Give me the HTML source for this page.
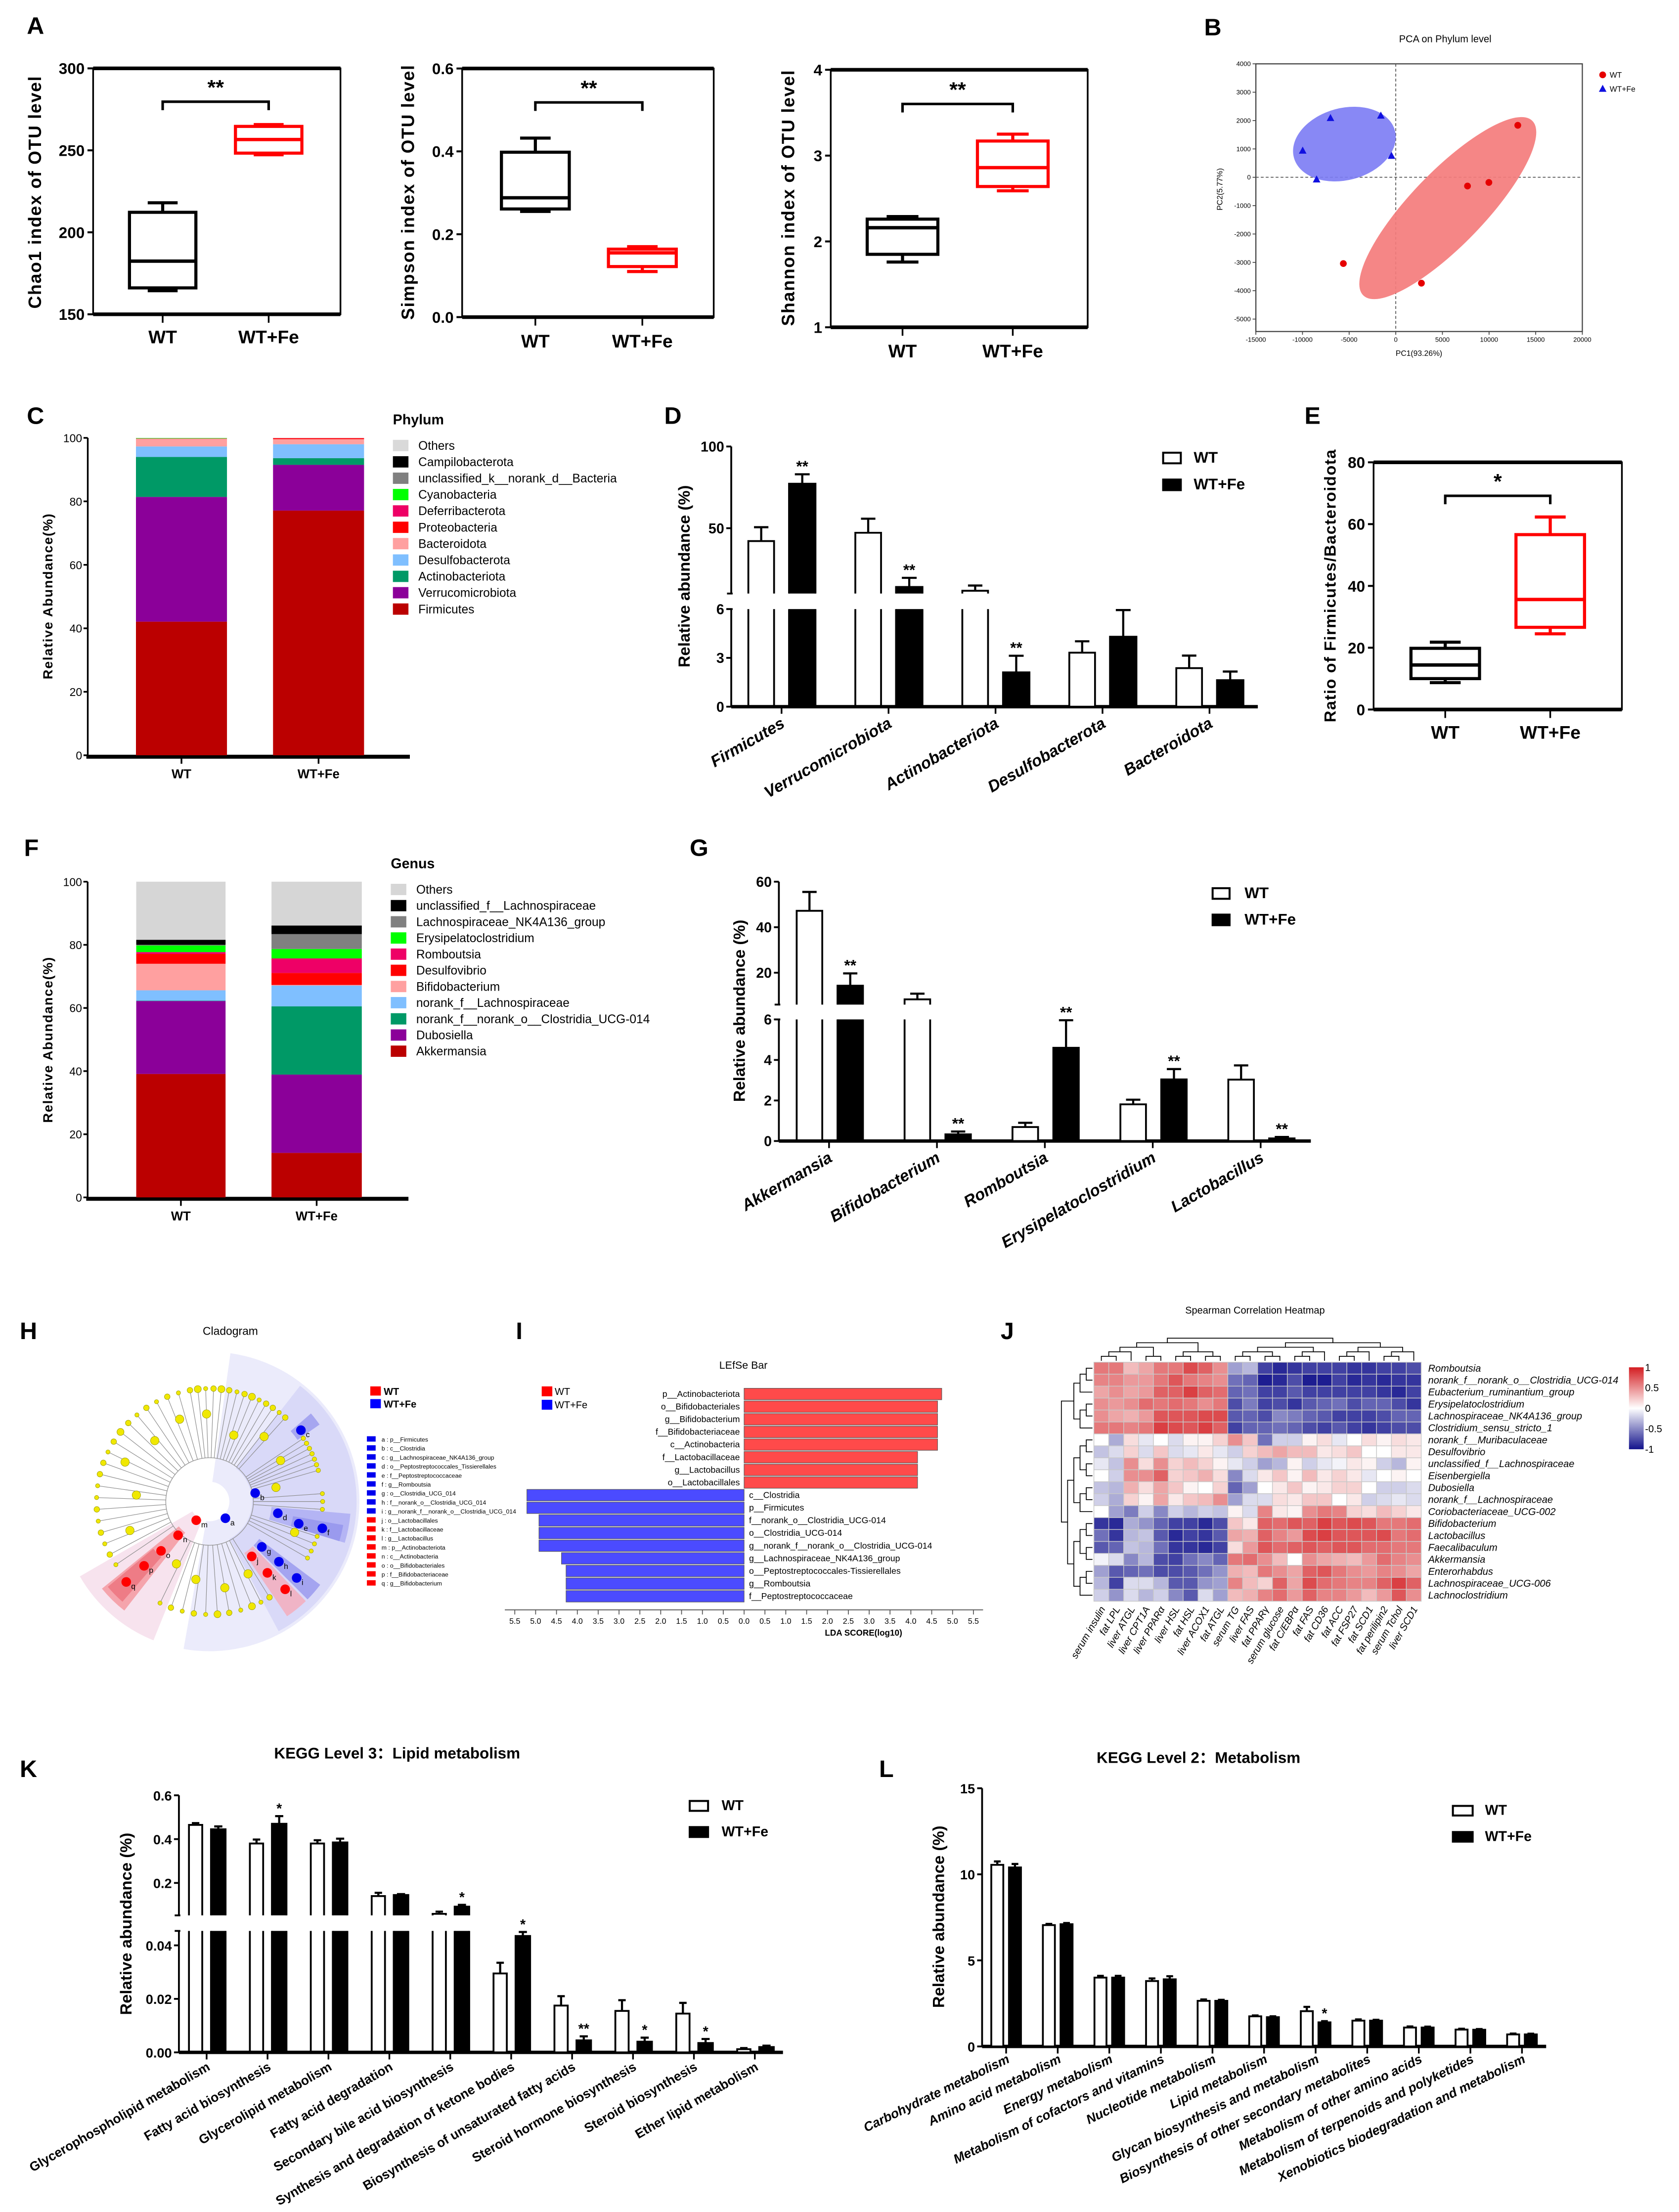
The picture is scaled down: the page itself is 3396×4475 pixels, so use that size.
<!DOCTYPE html>
<html><head><meta charset="utf-8"><title>Gut microbiota figure</title>
<style>
html,body{margin:0;padding:0;background:#fff;}
svg{display:block;font-family:"Liberation Sans","Noto Sans CJK SC",sans-serif;}
</style></head>
<body>
<svg id="fig" xmlns="http://www.w3.org/2000/svg" width="3396" height="4475" viewBox="0 0 1188 1566" preserveAspectRatio="none">
<rect x="0" y="0" width="1188" height="1566" fill="#fff"/>
</svg>
<script>
// ---------- DATA ----------
const alphaCats = ['WT','WT+Fe'];
const chaoStats = [[164.4,166.1,182.4,212.2,218],[247.3,248.3,256.6,264.6,265.7]];
const chaoTicks = [150,200,250,300];
const simpsonStats = [[0.255,0.261,0.288,0.398,0.432],[0.11,0.122,0.155,0.164,0.17]];
const simpsonTicks = [0,0.2,0.4,0.6];
const simpsonTickLabels = ['0.0','0.2','0.4','0.6'];
const shannonStats = [[1.76,1.85,2.16,2.26,2.29],[2.59,2.64,2.86,3.17,3.25]];
const shannonTicks = [1,2,3,4];
const ratioStats = [[8.7,10,14.4,19.8,21.8],[24.5,26.6,35.6,56.6,62.3]];
const ratioTicks = [0,20,40,60,80];

const pcaWTx = [13080,7690,9980,-5620,2750];
const pcaWTy = [1833,-308,-183,-3042,-3733];
const pcaFeX = [-7000,-1600,-9980,-460,-8490];
const pcaFeY = [2083,2167,933,750,-83];
const pcaXTicks = [-15000,-10000,-5000,0,5000,10000,15000,20000];
const pcaYTicks = [4000,3000,2000,1000,0,-1000,-2000,-3000,-4000,-5000];

const phylumNames = ['Others','Campilobacterota','unclassified_k__norank_d__Bacteria','Cyanobacteria','Deferribacterota','Proteobacteria','Bacteroidota','Desulfobacterota','Actinobacteriota','Verrucomicrobiota','Firmicutes'];
const phylumColors = ['#d9d9d9','#000000','#808080','#00ff00','#ee0066','#ff0000','#ffa0a0','#7fbfff','#009966','#8b0099','#bb0000'];
const phylumWT = [0.05,0,0,0.15,0.05,0.05,2.4,3.3,12.6,39.3,42.1];
const phylumFe = [0.05,0,0,0,0.05,0.3,1.6,4.4,2.1,14.4,77.1];
const stackTicks = [0,20,40,60,80,100];

const genusNames = ['Others','unclassified_f__Lachnospiraceae','Lachnospiraceae_NK4A136_group','Erysipelatoclostridium','Romboutsia','Desulfovibrio','Bifidobacterium','norank_f__Lachnospiraceae','norank_f__norank_o__Clostridia_UCG-014','Dubosiella','Akkermansia'];
const genusColors = ['#d6d6d6','#000000','#808080','#00ff00','#ee0066','#ff0000','#ffa0a0','#7fbfff','#009966','#8b0099','#bb0000'];
const genusWT = [18.4,1.6,0.2,2.1,0.6,3.1,8.4,3.3,0.1,23.1,39.1];
const genusFe = [13.9,2.7,4.7,3.0,4.6,3.8,0.2,6.6,21.6,24.8,14.1];

const dCats = ['Firmicutes','Verrucomicrobiota','Actinobacteriota','Desulfobacterota','Bacteroidota'];
const dWT = [42.1,47.2,11.7,3.32,2.37];
const dWTerr = [8.5,8.6,3.2,0.7,0.77];
const dFe = [77.2,14,2.11,4.3,1.63];
const dFeErr = [5.8,5.6,1.02,1.64,0.53];
const dSig = ['**','**','**','',''];

const gCats = ['Akkermansia','Bifidobacterium','Romboutsia','Erysipelatoclostridium','Lactobacillus'];
const gWT = [47.2,8.3,0.69,1.81,3.03];
const gWTerr = [8.3,2.5,0.21,0.23,0.7];
const gFe = [14.3,0.33,4.6,3.04,0.13];
const gFeErr = [5.4,0.14,1.36,0.51,0.07];
const gSig = ['**','**','**','**','**'];

const kCats = ['Glycerophospholipid metabolism','Fatty acid biosynthesis','Glycerolipid metabolism','Fatty acid degradation','Secondary bile acid biosynthesis','Synthesis and degradation of ketone bodies','Biosynthesis of unsaturated fatty acids','Steroid hormone biosynthesis','Steroid biosynthesis','Ether lipid metabolism'];
const kWT = [0.465,0.38,0.38,0.14,0.059,0.0295,0.0175,0.0155,0.0145,0.0012];
const kWTerr = [0.008,0.018,0.015,0.015,0.01,0.004,0.0035,0.004,0.004,0.0004];
const kFe = [0.445,0.47,0.385,0.145,0.092,0.0435,0.0045,0.004,0.0035,0.002];
const kFeErr = [0.013,0.035,0.017,0.004,0.008,0.0015,0.0015,0.0015,0.0015,0.0005];
const kSig = ['','*','','','*','*','**','*','*',''];

const lCats = ['Carbohydrate metabolism','Amino acid metabolism','Energy metabolism','Metabolism of cofactors and vitamins','Nucleotide metabolism','Lipid metabolism','Glycan biosynthesis and metabolism','Biosynthesis of other secondary metabolites','Metabolism of other amino acids','Metabolism of terpenoids and polyketides','Xenobiotics biodegradation and metabolism'];
const lWT = [10.55,7.05,4.0,3.8,2.65,1.75,2.05,1.5,1.1,0.98,0.7];
const lWTerr = [0.2,0.07,0.1,0.15,0.08,0.05,0.25,0.07,0.06,0.05,0.05];
const lFe = [10.4,7.1,4.0,3.9,2.65,1.7,1.4,1.5,1.1,0.97,0.7];
const lFeErr = [0.2,0.07,0.1,0.18,0.06,0.05,0.07,0.05,0.05,0.04,0.04];
const lSig = ['','','','','','','*','','','',''];

const lefseNames = ['p__Actinobacteriota','o__Bifidobacteriales','g__Bifidobacterium','f__Bifidobacteriaceae','c__Actinobacteria','f__Lactobacillaceae','g__Lactobacillus','o__Lactobacillales','c__Clostridia','p__Firmicutes','f__norank_o__Clostridia_UCG-014','o__Clostridia_UCG-014','g__norank_f__norank_o__Clostridia_UCG-014','g__Lachnospiraceae_NK4A136_group','o__Peptostreptococcales-Tissierellales','g__Romboutsia','f__Peptostreptococcaceae'];
const lefseGroup = ['WT','WT','WT','WT','WT','WT','WT','WT','Fe','Fe','Fe','Fe','Fe','Fe','Fe','Fe','Fe'];
const lefseScores = [4.74,4.64,4.64,4.64,4.64,4.16,4.16,4.16,5.21,5.21,4.92,4.92,4.92,4.38,4.27,4.27,4.27];

const hmRows = ['Romboutsia','norank_f__norank_o__Clostridia_UCG-014','Eubacterium_ruminantium_group','Erysipelatoclostridium','Lachnospiraceae_NK4A136_group','Clostridium_sensu_stricto_1','norank_f__Muribaculaceae','Desulfovibrio','unclassified_f__Lachnospiraceae','Eisenbergiella','Dubosiella','norank_f__Lachnospiraceae','Coriobacteriaceae_UCG-002','Bifidobacterium','Lactobacillus','Faecalibaculum','Akkermansia','Enterorhabdus','Lachnospiraceae_UCG-006','Lachnoclostridium'];
const hmCols = ['serum insulin','fat LPL','liver ATGL','liver CPT1A','liver PPARα','liver HSL','fat HSL','liver ACOX1','fat ATGL','serum TG','liver FAS','fat PPARγ','serum glucose','fat C/EBPα','fat FAS','fat CD36','fat ACC','fat FSP27','fat SCD1','fat perilipin2','serum Tchol','liver SCD1'];
const hmVals = [
[.6,.6,.3,.4,.6,.6,.8,.7,.5,-.4,-.3,-.8,-.9,-.85,-.8,-.8,-.8,-.85,-.85,-.8,-.8,-.75],
[.55,.55,.45,.45,.6,.75,.6,.55,.5,-.6,-.65,-.95,-.9,-.75,-.95,-.95,-.8,-.9,-.85,-.9,-.85,-.85],
[.4,.5,.4,.45,.7,.7,.85,.7,.65,-.65,-.6,-.8,-.8,-.7,-.8,-.8,-.8,-.8,-.8,-.85,-.9,-.8],
[.5,.45,.5,.65,.6,.65,.6,.5,.6,-.75,-.55,-.8,-.75,-.85,-.7,-.65,-.6,-.75,-.65,-.65,-.75,-.85],
[.5,.4,.35,.45,.75,.75,.75,.8,.8,-.7,-.65,-.75,-.5,-.55,-.65,-.7,-.8,-.8,-.8,-.75,-.65,-.65],
[.6,.6,.55,.6,.85,.8,.75,.85,.7,-.8,-.65,-.65,-.6,-.65,-.75,-.8,-.7,-.8,-.85,-.8,-.75,-.75],
[0,-.35,.15,-.1,0,-.15,.05,.05,.2,.5,.25,-.6,-.2,-.2,.05,.15,-.1,0,.15,.05,.15,.1],
[-.25,-.15,.2,-.15,.25,-.15,-.1,.1,-.1,-.2,.2,.3,.4,.3,.3,.1,.15,.25,0,0,.1,.1],
[-.1,-.25,.5,.15,.5,.2,.3,.2,.05,-.1,-.2,-.4,-.3,.05,-.2,-.1,-.05,.1,.05,-.2,-.3,.05],
[0,-.2,.5,.5,.7,.2,.25,.35,.15,-.5,-.15,.1,.25,.05,.3,.1,.2,.1,-.1,0,.05,0],
[-.25,-.3,.35,.15,.4,.25,.05,0,.2,-.65,-.4,0,.1,.25,.05,.1,.2,.2,0,-.2,-.2,-.15],
[-.2,-.35,.2,.05,.4,.1,.25,.3,.5,-.4,-.15,-.15,.15,.1,.25,.25,0,.1,-.2,-.15,-.1,-.15],
[0,-.4,-.55,-.2,-.5,-.2,-.3,-.2,-.25,.05,-.15,.55,.1,.05,.5,.6,.55,.2,.15,.3,.2,.1],
[-.85,-.9,-.35,-.45,-.65,-.8,-.8,-.9,-.75,.25,.1,.7,.65,.75,.7,.85,.75,.8,.75,.6,.6,.65],
[-.6,-.85,-.3,-.25,-.7,-.9,-.8,-.85,-.7,.4,.35,.7,.55,.45,.8,.85,.75,.75,.75,.8,.6,.65],
[-.7,-.65,-.25,-.3,-.6,-.85,-.85,-.9,-.8,.15,.45,.75,.65,.7,.75,.7,.75,.75,.65,.65,.6,.6],
[-.05,-.15,-.5,-.3,-.75,-.8,-.6,-.5,-.65,.6,.65,.5,.3,0,.5,.4,.35,.3,.45,.65,.55,.5],
[-.4,-.7,-.65,-.6,-.75,-.75,-.7,-.6,-.45,.35,.3,.6,.5,.4,.7,.75,.6,.5,.45,.55,.5,.4],
[-.3,-.8,-.15,-.15,-.3,-.7,-.7,-.45,-.4,.55,.3,.2,.7,.4,.8,.65,.6,.55,.55,.7,.85,.7],
[-.2,-.45,-.15,-.3,-.2,-.5,-.7,-.15,-.4,.3,.35,.55,.65,.45,.7,.55,.55,.45,.3,.45,.75,.5]
];
const hmScaleTicks = [1,0.5,0,-0.5,-1];

const cladoLeafAngles = [-100,-96,-92,-88,-84,-80,-76,-72,-68,-64,-60,-56,-52,-48,-34,-31,-28,-25,-22,-19,-16,-4,0,4,18,22,26,30,58,63,68,74,80,86,92,98,104,110,116,146,152,158,164,170,176,182,188,194,200,206,212,218,224,230,236,242,248,254];
const cladoLeafSizes = [2,2.5,1.5,2,2.5,2,1.5,2,2.5,1.5,2,2,1.5,2,1.6,1.6,1.6,1.6,1.6,1.6,1.6,1.5,1.5,1.5,1.5,1.5,1.5,1.5,2,1.5,2.5,1.5,2,2.5,1.5,2,1.5,2,1.5,1.5,2,1.5,2,1.5,2,1.5,1.5,2,2,1.5,2,2.5,2,1.5,2,1.5,2,1.5];
const cladoMidAngles = [-92,-70,-50,-30,-12,20,62,80,100,118,160,185,205,228,250];
const cladoMidRadii = [62,50,60,58,48,64,58,62,56,50,60,52,66,58,62];
const cladoMarkLetters = ['a','b','c','d','e','f','g','h','i','j','k','l','m','n','o','p','q'];
const cladoMarkAngles = [46.7,-10.5,-38,9.8,14,13.4,41,41,41.3,52.5,51,49.3,125.5,133,134.5,135.5,136];
const cladoMarkRadii = [16.3,32.8,82,49,65,82,49,65,82,49,65,82,16.3,32.7,49,65,82];
const cladoMarkGroup = ['Fe','Fe','Fe','Fe','Fe','Fe','Fe','Fe','Fe','WT','WT','WT','WT','WT','WT','WT','WT'];
const cladoLegendText = ['a : p__Firmicutes','b : c__Clostridia','c : g__Lachnospiraceae_NK4A136_group','d : o__Peptostreptococcales_Tissierellales','e : f__Peptostreptococcaceae','f : g__Romboutsia','g : o__Clostridia_UCG_014','h : f__norank_o__Clostridia_UCG_014','i : g__norank_f__norank_o__Clostridia_UCG_014','j : o__Lactobacillales','k : f__Lactobacillaceae','l : g__Lactobacillus','m : p__Actinobacteriota','n : c__Actinobacteria','o : o__Bifidobacteriales','p : f__Bifidobacteriaceae','q : g__Bifidobacterium'];

// ---------- HELPERS ----------
const NS = 'http://www.w3.org/2000/svg';
const svg = document.getElementById('fig');
function mk(tag, at, p){ const e = document.createElementNS(NS, tag); for (const k in at) e.setAttribute(k, at[k]); (p||svg).appendChild(e); return e; }
function tx(s, at, p){ const e = mk('text', at, p); e.textContent = s; return e; }
function lin(d0,d1,r0,r1){ return v => r0 + (v-d0)*(r1-r0)/(d1-d0); }

// panel letters
[['A',19,24],['B',852,25],['C',19,300],['D',470,300],['E',923,300],['F',17,606],['G',488,606],['H',14,948],['I',365,948],['J',708,948],['K',14,1258],['L',622,1258]].forEach(p=>{
  const t = tx(p[0], {x:p[1], y:p[2], 'font-size':17, 'font-weight':'bold'});
  
  
});

// ---------- BOX PLOTS ----------
function boxPanel(c){
  const g = mk('g', {});
  
  
  const y = lin(c.dMin, c.dMax, c.yBot, c.yTop);
  const fr = mk('rect', {x:c.x0, y:c.yTop, width:c.x1-c.x0, height:c.yBot-c.yTop, fill:'none', stroke:'#000', 'stroke-width':1.2}, g);
  
  
  [c.yTop, c.yBot].forEach(yy=>{
    const l = mk('line', {x1:c.x0, x2:c.x1, y1:yy, y2:yy, stroke:'#000', 'stroke-width':2.6}, g);
    
    
  });
  c.ticks.forEach((t,i)=>{
    const l = mk('line', {x1:c.x0-4, x2:c.x0, y1:y(t), y2:y(t), stroke:'#000', 'stroke-width':1.4}, g);
    
    
    const s = tx(c.tickLabels ? c.tickLabels[i] : String(t), {x:c.x0-6, y:y(t)+4, 'font-size':c.tfs||11, 'font-weight':'bold', 'text-anchor':'end'}, g);
    
    
  });
  const yl = tx(c.ylabel, {x:0, y:0, 'font-size':c.yfs||12.5, 'font-weight':'bold', 'text-anchor':'middle', transform:`translate(${c.ylx},${c.yly}) rotate(-90)`, 'letter-spacing':c.yls||0.6}, g);
  
  
  c.stats.forEach((s,i)=>{
    const cx = c.cx[i], col = c.colors[i], hw = c.bw/2;
    const xt = mk('line', {x1:cx, x2:cx, y1:c.yBot, y2:c.yBot+6, stroke:'#000', 'stroke-width':1.2}, g);
    
    
    const xl = tx(alphaCats[i], {x:cx, y:c.xly, 'font-size':c.xfs||13, 'font-weight':'bold', 'text-anchor':'middle'}, g);
    
    
    const wh = mk('path', {d:`M${cx},${y(s[0])}V${y(s[1])}M${cx},${y(s[3])}V${y(s[4])}M${cx-hw*0.45},${y(s[0])}H${cx+hw*0.45}M${cx-hw*0.45},${y(s[4])}H${cx+hw*0.45}`, stroke:col, 'stroke-width':2.2, fill:'none'}, g);
    
    
    const bx = mk('rect', {x:cx-hw, y:y(s[3]), width:c.bw, height:y(s[1])-y(s[3]), fill:'#fff', stroke:col, 'stroke-width':2.2}, g);
    
    
    const md = mk('line', {x1:cx-hw, x2:cx+hw, y1:y(s[2]), y2:y(s[2]), stroke:col, 'stroke-width':2.4}, g);
    
    
  });
  const br = mk('path', {d:`M${c.cx[0]},${c.sigY+6}V${c.sigY}H${c.cx[1]}V${c.sigY+6}`, stroke:'#000', 'stroke-width':1.8, fill:'none'}, g);
  
  
  const st = tx(c.sig, {x:(c.cx[0]+c.cx[1])/2, y:c.sigY-5, 'font-size':15, 'font-weight':'bold', 'text-anchor':'middle'}, g);
  
  
}
boxPanel({name:'chao1-boxplot', x0:65.9, x1:240.9, yTop:48.4, yBot:222.5, dMin:150, dMax:300, ticks:chaoTicks, stats:chaoStats, cx:[115.1,190.1], bw:47, colors:['#000','#f00'], ylabel:'Chao1 index of OTU level', ylx:29, yly:136, xly:243, sigY:72, sig:'**'});
boxPanel({name:'simpson-boxplot', x0:327, x1:505, yTop:48.5, yBot:224.5, dMin:0, dMax:0.6, ticks:simpsonTicks, tickLabels:simpsonTickLabels, stats:simpsonStats, cx:[378.8,454.5], bw:48, colors:['#000','#f00'], ylabel:'Simpson index of OTU level', ylx:293, yly:136, xly:246, sigY:72.5, sig:'**'});
boxPanel({name:'shannon-boxplot', x0:587.8, x1:769.6, yTop:49.4, yBot:231.7, dMin:1, dMax:4, ticks:shannonTicks, stats:shannonStats, cx:[638.6,716.6], bw:50, colors:['#000','#f00'], ylabel:'Shannon index of OTU level', ylx:562, yly:140, xly:253, sigY:73.6, sig:'**'});
boxPanel({name:'firmicutes-bacteroidota-ratio-boxplot', x0:971.9, x1:1147.6, yTop:327.3, yBot:502.3, dMin:0, dMax:80, ticks:ratioTicks, stats:ratioStats, cx:[1022.6,1096.9], bw:48.5, colors:['#000','#f00'], ylabel:'Ratio of Firmicutes/Bacteroidota', ylx:945, yly:414.6, yfs:11.5, yls:0.5, xly:523, sigY:351, sig:'*'});

// ---------- PCA ----------
(function(){
  const g = mk('g', {});
  
  
  const X = lin(-15000, 20000, 888.6, 1119.6), Y = lin(4000, -5000, 45.2, 225.9);
  const t = tx('PCA on Phylum level', {x:1022.6, y:30, 'font-size':7, 'text-anchor':'middle'}, g);
  
  
  const fr = mk('rect', {x:888.6, y:45.2, width:231, height:189.5, fill:'none', stroke:'#444', 'stroke-width':0.8}, g);
  
  
  pcaXTicks.forEach(v=>{
    const l = mk('line', {x1:X(v), x2:X(v), y1:234.7, y2:237, stroke:'#444', 'stroke-width':0.6}, g);
    
    
    const s = tx(String(v), {x:X(v), y:242, 'font-size':4.6, 'text-anchor':'middle'}, g);
    
    
  });
  pcaYTicks.forEach(v=>{
    const l = mk('line', {x1:886.3, x2:888.6, y1:Y(v), y2:Y(v), stroke:'#444', 'stroke-width':0.6}, g);
    
    
    const s = tx(String(v), {x:885, y:Y(v)+1.6, 'font-size':4.6, 'text-anchor':'end'}, g);
    
    
  });
  const z1 = mk('line', {x1:X(0), x2:X(0), y1:45.2, y2:234.7, stroke:'#555', 'stroke-width':0.6, 'stroke-dasharray':'2,1.5'}, g);
  
  
  const z2 = mk('line', {x1:888.6, x2:1119.6, y1:Y(0), y2:Y(0), stroke:'#555', 'stroke-width':0.6, 'stroke-dasharray':'2,1.5'}, g);
  
  
  const mean = a => a.reduce((s,v)=>s+v,0)/a.length;
  const bx = X(mean(pcaFeX)), by = Y(mean(pcaFeY));
  const eb = mk('ellipse', {cx:0, cy:0, rx:37, ry:25.5, fill:'#7b7bf4', opacity:0.9, transform:`translate(${bx},${by}) rotate(-15)`}, g);
  
  
  const rx = X(mean(pcaWTx)), ry = Y(mean(pcaWTy));
  const er = mk('ellipse', {cx:0, cy:0, rx:86, ry:26, fill:'#f47c7c', opacity:0.92, transform:`translate(${rx},${ry}) rotate(-46)`}, g);
  
  
  pcaWTx.forEach((v,i)=>{
    const c = mk('circle', {cx:X(v), cy:Y(pcaWTy[i]), r:2.4, fill:'#e60000'}, g);
    
    
  });
  pcaFeX.forEach((v,i)=>{
    const px = X(v), py = Y(pcaFeY[i]);
    const p = mk('path', {d:`M${px},${py-3}L${px+2.7},${py+2}L${px-2.7},${py+2}Z`, fill:'#1010e0'}, g);
    
    
  });
  const xl = tx('PC1(93.26%)', {x:1004, y:252, 'font-size':5.5, 'text-anchor':'middle'}, g);
  
  
  const yl = tx('PC2(5.77%)', {x:0, y:0, 'font-size':5.5, 'text-anchor':'middle', transform:'translate(865,134) rotate(-90)'}, g);
  
  
  const lc = mk('circle', {cx:1134, cy:53, r:2.4, fill:'#e60000'}, g);
  
  
  const lt = tx('WT', {x:1139, y:55, 'font-size':5.5}, g);
  
  
  const lm = mk('path', {d:'M1134,60L1136.7,65L1131.3,65Z', fill:'#1010e0'}, g);
  
  
  const lt2 = tx('WT+Fe', {x:1139, y:65, 'font-size':5.5}, g);
  
  
})();

// ---------- STACKED BARS ----------
function stacked(c){
  const g = mk('g', {});
  
  
  const y = lin(0, 100, c.yBot, c.yTop);
  const ax = mk('line', {x1:c.x0, x2:c.x0, y1:c.yTop, y2:c.yBot, stroke:'#000', 'stroke-width':1.2}, g);
  
  
  const bx = mk('line', {x1:c.x0-1, x2:c.x1, y1:c.yBot+1, y2:c.yBot+1, stroke:'#000', 'stroke-width':2.8}, g);
  
  
  stackTicks.forEach(t=>{
    const l = mk('line', {x1:c.x0-3, x2:c.x0, y1:y(t), y2:y(t), stroke:'#000', 'stroke-width':1.2}, g);
    
    
    const s = tx(String(t), {x:c.x0-4, y:y(t)+3, 'font-size':8, 'text-anchor':'end'}, g);
    
    
  });
  const yl = tx('Relative Abundance(%)', {x:0, y:0, 'font-size':9.5, 'font-weight':'bold', 'text-anchor':'middle', 'letter-spacing':0.6, transform:`translate(${c.ylx},${c.yly}) rotate(-90)`}, g);
  
  
  [c.wt, c.fe].forEach((vals, k)=>{
    const bx0 = c.bars[k][0], bx1 = c.bars[k][1];
    let cum = 0;
    for (let i = vals.length-1; i >= 0; i--){
      if (vals[i] <= 0) continue;
      const r = mk('rect', {x:bx0, y:y(cum+vals[i]), width:bx1-bx0, height:y(cum)-y(cum+vals[i]), fill:c.colors[i]}, g);
      
      
      cum += vals[i];
    }
    const cx = (bx0+bx1)/2;
    const xt = mk('line', {x1:cx, x2:cx, y1:c.yBot+2, y2:c.yBot+6, stroke:'#000', 'stroke-width':1.2}, g);
    
    
    const xl = tx(alphaCats[k], {x:cx, y:c.xly, 'font-size':9, 'font-weight':'bold', 'text-anchor':'middle'}, g);
    
    
  });
  const lt = tx(c.title, {x:c.lx, y:c.ly-15, 'font-size':10, 'font-weight':'bold'}, g);
  
  
  c.names.forEach((n,i)=>{
    const sw = mk('rect', {x:c.lx, y:c.ly+c.ls*i-4, width:11, height:8, fill:c.colors[i]}, g);
    
    
    const s = tx(n, {x:c.lx+18, y:c.ly+c.ls*i+3, 'font-size':8.6}, g);
    
    
  });
}
stacked({name:'phylum-stacked-bar', x0:62.1, x1:290, yTop:310, yBot:534.7, wt:phylumWT, fe:phylumFe, names:phylumNames, colors:phylumColors, bars:[[96.2,160.6],[193.2,257.6]], ylx:37, yly:422, xly:551, lx:278, ly:315.4, ls:11.58, title:'Phylum'});
stacked({name:'genus-stacked-bar', x0:62, x1:289, yTop:624.2, yBot:847.7, wt:genusWT, fe:genusFe, names:genusNames, colors:genusColors, bars:[[96.4,159.6],[192.1,256]], ylx:37, yly:736, xly:864, lx:276.5, ly:629.7, ls:11.45, title:'Genus'});

// ---------- BAR CHARTS (optionally broken axis) ----------
function barChart(c){
  const g = mk('g', {});
  
  
  const lo = lin(c.low[0], c.low[1], c.lowPx[0], c.lowPx[1]);
  const up = c.up ? lin(c.up[0], c.up[1], c.upPx[0], c.upPx[1]) : null;
  const y = v => (up && v > c.low[1]) ? up(Math.max(v, c.up[0])) : lo(v);
  const base = c.lowPx[0];
  const a1 = mk('line', {x1:c.x0, x2:c.x0, y1:c.lowPx[1], y2:base, stroke:'#000', 'stroke-width':1.3}, g);
  
  
  if (up){
    const a2 = mk('line', {x1:c.x0, x2:c.x0, y1:c.upPx[1], y2:c.upPx[0], stroke:'#000', 'stroke-width':1.3}, g);
    
    
    [c.upPx[0], c.lowPx[1]].forEach(yy=>{
      const b = mk('line', {x1:c.x0-3, x2:c.x0+1, y1:yy, y2:yy, stroke:'#000', 'stroke-width':1.3}, g);
      
      
    });
  }
  const xa = mk('line', {x1:c.x0, x2:c.x1, y1:base, y2:base, stroke:'#000', 'stroke-width':2.4}, g);
  
  
  c.ticks.forEach((t,i)=>{
    const yy = (up && t > c.low[1]) ? up(t) : lo(t);
    const l = mk('line', {x1:c.x0-3.5, x2:c.x0, y1:yy, y2:yy, stroke:'#000', 'stroke-width':1.3}, g);
    
    
    const s = tx(c.tickLabels[i], {x:c.x0-5, y:yy+3.6, 'font-size':c.tfs, 'font-weight':'bold', 'text-anchor':'end'}, g);
    
    
  });
  const yl = tx('Relative abundance (%)', {x:0, y:0, 'font-size':c.yfs||11.5, 'font-weight':'bold', 'text-anchor':'middle', transform:`translate(${c.ylx},${c.yly}) rotate(-90)`}, g);
  
  
  function bar(v, err, xa0, xa1, fill, nm, sig){
    const cx = (xa0+xa1)/2;
    if (up && v > c.low[1]){
      const lt = c.lowPx[1];
      const r1 = mk('path', {d:`M${xa0},${base}V${lt}M${xa1},${base}V${lt}`, fill:'none', stroke:'#000', 'stroke-width':1.3}, g);
      
      
      if (fill !== '#fff'){
        const f1 = mk('rect', {x:xa0, y:lt, width:xa1-xa0, height:base-lt, fill:fill}, g);
        
        
      }
      const ub = c.upPx[0];
      const r2 = mk('path', {d:`M${xa0},${ub}V${y(v)}H${xa1}V${ub}`, fill:fill, stroke:'#000', 'stroke-width':1.3}, g);
      
      
    } else {
      const r = mk('rect', {x:xa0, y:y(v), width:xa1-xa0, height:base-y(v), fill:fill, stroke:'#000', 'stroke-width':1.3}, g);
      
      
    }
    const ye = y(v+err), cw = (xa1-xa0)*0.28;
    const e = mk('path', {d:`M${cx},${y(v)}V${ye}M${cx-cw},${ye}H${cx+cw}`, stroke:'#000', 'stroke-width':1.5, fill:'none'}, g);
    
    
    if (sig){
      const s = tx(sig, {x:cx, y:ye-2, 'font-size':c.sfs||11, 'font-weight':'bold', 'text-anchor':'middle'}, g);
      
      
    }
  }
  c.cats.forEach((cat,i)=>{
    const cx = c.c0 + c.step*i;
    bar(c.wt[i], c.wtErr[i], cx+c.wtOff[0], cx+c.wtOff[1], '#fff', 'bar-wt-'+i, '');
    bar(c.fe[i], c.feErr[i], cx+c.feOff[0], cx+c.feOff[1], '#000', 'bar-wt-fe-'+i, c.sig[i]);
    const xt = mk('line', {x1:cx, x2:cx, y1:base, y2:base+5, stroke:'#000', 'stroke-width':1.2}, g);
    
    
    const xl = tx(cat, {x:0, y:0, 'font-size':c.xfs, 'font-weight':'bold', 'font-style':c.italic?'italic':'normal', 'text-anchor':'end', transform:`translate(${cx+3},${base+c.xdy}) rotate(${c.rot})`}, g);
    
    
  });
  if (c.title){
    const t = tx(c.title[0], {x:c.title[1], y:c.title[2], 'font-size':11, 'font-weight':'bold', 'text-anchor':'middle'}, g);
    
    
  }
  const L = c.leg;
  const b1 = mk('rect', {x:L[0], y:L[1], width:L[2], height:L[3], fill:'#fff', stroke:'#000', 'stroke-width':1.4}, g);
  
  
  const t1 = tx('WT', {x:L[4], y:L[1]+L[3]-0.5, 'font-size':L[6], 'font-weight':'bold'}, g);
  
  
  const b2 = mk('rect', {x:L[0], y:L[5], width:L[2], height:L[3], fill:'#000', stroke:'#000', 'stroke-width':1.4}, g);
  
  
  const t2 = tx('WT+Fe', {x:L[4], y:L[5]+L[3]-0.5, 'font-size':L[6], 'font-weight':'bold'}, g);
  
  
}
barChart({name:'phylum-abundance-bars', x0:517.4, x1:890, low:[0,6], lowPx:[500.3,431.2], up:[10,100], upPx:[420.2,316.1], ticks:[0,3,6,50,100], tickLabels:['0','3','6','50','100'], tfs:10, cats:dCats, wt:dWT, wtErr:dWTerr, fe:dFe, feErr:dFeErr, sig:dSig, c0:553, step:75.7, wtOff:[-23.5,-5.3], feOff:[5.3,24], xfs:11.5, italic:true, rot:-30, xdy:14, ylx:488, yly:408, leg:[823,320.5,12.5,7.5,844.6,339.5,11]});
barChart({name:'genus-abundance-bars', x0:551.1, x1:927.5, low:[0,6], lowPx:[807.8,721.7], up:[6,60], upPx:[711.2,624.2], ticks:[0,2,4,6,20,40,60], tickLabels:['0','2','4','6','20','40','60'], tfs:10, cats:gCats, wt:gWT, wtErr:gWTerr, fe:gFe, feErr:gFeErr, sig:gSig, c0:586.6, step:76.35, wtOff:[-22.9,-4.8], feOff:[6,24], xfs:11.5, italic:true, rot:-30, xdy:14, ylx:527, yly:715.6, leg:[858,628.8,12,7.5,880.6,647.5,11]});
barChart({name:'kegg-lipid-bars', x0:126.6, x1:554, low:[0,0.0454], lowPx:[1453,1367], up:[0.052,0.6], upPx:[1356,1271], ticks:[0,0.02,0.04,0.2,0.4,0.6], tickLabels:['0.00','0.02','0.04','0.2','0.4','0.6'], tfs:9.5, cats:kCats, wt:kWT, wtErr:kWTerr, fe:kFe, feErr:kFeErr, sig:kSig, c0:146.2, step:43.1, wtOff:[-12.5,-3.1], feOff:[3.1,13.4], xfs:9.2, italic:false, rot:-30, xdy:12, ylx:93, yly:1362, sfs:10, title:['KEGG Level 3：Lipid metabolism',281,1245], leg:[488,1275,13,7,510.6,1293.5,10]});
barChart({name:'kegg-metabolism-bars', x0:694.9, x1:1094, low:[0,15], lowPx:[1448.8,1266], ticks:[0,5,10,15], tickLabels:['0','5','10','15'], tfs:9.5, cats:lCats, wt:lWT, wtErr:lWTerr, fe:lFe, feErr:lFeErr, sig:lSig, c0:711.9, step:36.5, wtOff:[-10.5,-2], feOff:[2,10.5], xfs:9.2, italic:true, rot:-26, xdy:11, ylx:668, yly:1357, sfs:10, title:['KEGG Level 2：Metabolism',848,1248], leg:[1028,1278.5,14,6.8,1050.7,1297,10]});

// ---------- LEfSe ----------
(function(){
  const g = mk('g', {});
  
  
  const zero = 526.5, unit = 29.5, ax = v => zero + v*unit;
  const t = tx('LEfSe Bar', {x:526, y:969, 'font-size':7.5, 'text-anchor':'middle'}, g);
  
  
  lefseScores.forEach((s,i)=>{
    const yc = 986.9 + 8.95*i, isWT = lefseGroup[i] === 'WT';
    const x0 = isWT ? ax(0) : ax(-s), x1 = isWT ? ax(s) : ax(0);
    const r = mk('rect', {x:x0, y:yc-4.05, width:x1-x0, height:8.1, fill:isWT?'#ff4a4a':'#4b4bff', stroke:'#555', 'stroke-width':0.4}, g);
    
    
    const l = tx(lefseNames[i], {x:isWT?zero-3:zero+3.5, y:yc+2, 'font-size':6.2, 'text-anchor':isWT?'end':'start'}, g);
    
    
  });
  const axl = mk('line', {x1:357.2, x2:695.6, y1:1139.7, y2:1139.7, stroke:'#777', 'stroke-width':0.8}, g);
  
  
  for (let k = -11; k <= 11; k++){
    const v = k*0.5;
    const tk = mk('line', {x1:ax(v), x2:ax(v), y1:1139.7, y2:1143, stroke:'#555', 'stroke-width':0.6}, g);
    
    
    const s = tx(Math.abs(v).toFixed(1), {x:ax(v), y:1149.5, 'font-size':5.6, 'text-anchor':'middle'}, g);
    
    
  }
  const xl = tx('LDA SCORE(log10)', {x:611, y:1158, 'font-size':6, 'font-weight':'bold', 'text-anchor':'middle'}, g);
  
  
  const s1 = mk('rect', {x:383.3, y:981.5, width:7.5, height:7, fill:'#ff0000'}, g);
  
  
  const t1 = tx('WT', {x:392.5, y:987.5, 'font-size':7}, g);
  
  
  const s2 = mk('rect', {x:383.3, y:991, width:7.5, height:7, fill:'#0000ff'}, g);
  
  
  const t2 = tx('WT+Fe', {x:392.5, y:997, 'font-size':7}, g);
  
  
})();

// ---------- HEATMAP ----------
(function(){
  const g = mk('g', {});
  
  
  const L = 774, T = 964.4, cw = (1005.6-774)/hmCols.length, ch = (1133.6-964.4)/hmRows.length;
  const t = tx('Spearman Correlation Heatmap', {x:888, y:930, 'font-size':7, 'text-anchor':'middle'}, g);
  
  
  function col(v){
    let r, gg, b;
    if (v >= 0){ r = 255+(212-255)*v; gg = 255+(30-255)*v; b = 255+(34-255)*v; }
    else { const u = -v; r = 255+(18-255)*u; gg = 255+(18-255)*u; b = 255+(140-255)*u; }
    return `rgb(${r|0},${gg|0},${b|0})`;
  }
  hmVals.forEach((row,i)=>{
    row.forEach((v,j)=>{
      const r = mk('rect', {x:L+cw*j, y:T+ch*i, width:cw, height:ch, fill:col(v), stroke:'#c8c8c8', 'stroke-width':0.5}, g);
      
      
    });
    const l = tx(hmRows[i], {x:1010.5, y:T+ch*i+ch/2+2.4, 'font-size':7, 'font-style':'italic'}, g);
    
    
  });
  hmCols.forEach((c,j)=>{
    const l = tx(c, {x:0, y:0, 'font-size':7, 'font-style':'italic', 'text-anchor':'end', transform:`translate(${L+cw*j+cw/2+3},${1139}) rotate(-60)`}, g);
    
    
  });
  function tree(lo, hi, pos, split){
    if (lo === hi) return {p:pos(lo), h:0, lo, hi};
    const m = split !== undefined ? split : Math.floor((lo+hi)/2);
    const a = tree(lo, m, pos), b = tree(m+1, hi, pos);
    const h = Math.max(a.h, b.h) + 1;
    return {p:(a.p+b.p)/2, h, a, b};
  }
  function drawCol(n, unit, top){
    if (!n.a) return;
    const yy = top - n.h*unit;
    const p = mk('path', {d:`M${n.a.p},${top-n.a.h*unit}V${yy}H${n.b.p}V${top-n.b.h*unit}`, stroke:'#000', 'stroke-width':0.6, fill:'none'}, g);
    
    
    drawCol(n.a, unit, top); drawCol(n.b, unit, top);
  }
  function drawRow(n, unit, left){
    if (!n.a) return;
    const xx = left - n.h*unit;
    const p = mk('path', {d:`M${left-n.a.h*unit},${n.a.p}H${xx}V${n.b.p}H${left-n.b.h*unit}`, stroke:'#000', 'stroke-width':0.6, fill:'none'}, g);
    
    
    drawRow(n.a, unit, left); drawRow(n.b, unit, left);
  }
  const ct = tree(0, hmCols.length-1, j=>L+cw*j+cw/2, 8);
  drawCol(ct, 16/ct.h, T-1);
  const rt = tree(0, hmRows.length-1, i=>T+ch*i+ch/2, 5);
  drawRow(rt, 22/rt.h, L-1);
  const defs = mk('defs', {}, g);
  const lg = mk('linearGradient', {id:'hmgrad', x1:0, y1:0, x2:0, y2:1}, defs);
  mk('stop', {offset:'0', 'stop-color':'#d41e22'}, lg);
  mk('stop', {offset:'0.5', 'stop-color':'#ffffff'}, lg);
  mk('stop', {offset:'1', 'stop-color':'#12128c'}, lg);
  const cb = mk('rect', {x:1152.6, y:968, width:10.4, height:58, fill:'url(#hmgrad)'}, g);
  
  
  hmScaleTicks.forEach((v,i)=>{
    const s = tx(String(v), {x:1164, y:968+58*(1-v)/2+2.5, 'font-size':7}, g);
    
    
  });
})();

// ---------- CLADOGRAM ----------
(function(){
  const g = mk('g', {});
  
  
  const CX = 148.3, CY = 1063;
  const pt = (a, r) => [CX + r*Math.cos(a*Math.PI/180), CY + r*Math.sin(a*Math.PI/180)];
  function sector(a0, a1, r0, r1, fill, nm){
    const [x0,y0] = pt(a0,r1), [x1,y1] = pt(a1,r1), [x2,y2] = pt(a1,r0), [x3,y3] = pt(a0,r0);
    const lg = (a1-a0) > 180 ? 1 : 0;
    const p = mk('path', {d:`M${x0},${y0}A${r1},${r1} 0 ${lg} 1 ${x1},${y1}L${x2},${y2}A${r0},${r0} 0 ${lg} 0 ${x3},${y3}Z`, fill:fill}, g);
    
    
  }
  const t = tx('Cladogram', {x:163, y:945, 'font-size':8, 'text-anchor':'middle'}, g);
  
  
  sector(-82, 100, 14, 106, '#ebebfb', 'clade-sector-a');
  sector(-52, 62, 30, 104, '#d9d9f8', 'clade-sector-b');
  sector(112, 150, 14, 106, '#f7e3ee', 'clade-sector-m');
  sector(-41, -35, 76, 95, '#a6a6f0', 'clade-sector-c');
  sector(5, 17, 44, 100, '#b4b4f4', 'clade-sector-d');
  sector(10, 17, 60, 96, '#9a9aee', 'clade-sector-e');
  sector(37, 45, 44, 98, '#a4a4f0', 'clade-sector-g');
  sector(46, 56, 44, 98, '#f0b4c6', 'clade-sector-j');
  sector(128, 141, 28, 98, '#f5a4ac', 'clade-sector-n');
  sector(131, 140, 52, 94, '#ee7c86', 'clade-sector-p');
  const hub = mk('circle', {cx:CX, cy:CY, r:31, fill:'none', stroke:'#999', 'stroke-width':0.5}, g);
  
  
  cladoLeafAngles.forEach((a,i)=>{
    const [x0,y0] = pt(a, 31), [x1,y1] = pt(a, 80);
    const l = mk('line', {x1:x0, y1:y0, x2:x1, y2:y1, stroke:'#8a8a8a', 'stroke-width':0.4}, g);
    
    
    const c = mk('circle', {cx:x1, cy:y1, r:cladoLeafSizes[i], fill:'#f0e800', stroke:'#9a9a00', 'stroke-width':0.3}, g);
    
    
  });
  cladoMidAngles.forEach((a,i)=>{
    const [x,y] = pt(a, cladoMidRadii[i]);
    const c = mk('circle', {cx:x, cy:y, r:3, fill:'#f0e800', stroke:'#9a9a00', 'stroke-width':0.3}, g);
    
    
  });
  cladoMarkLetters.forEach((m,i)=>{
    const [x,y] = pt(cladoMarkAngles[i], cladoMarkRadii[i]);
    const c = mk('circle', {cx:x, cy:y, r:3.4, fill:cladoMarkGroup[i]==='WT'?'#ff0000':'#0000ee'}, g);
    
    
    const s = tx(m, {x:x+3.5, y:y+5, 'font-size':5.5}, g);
    
    
  });
  const s1 = mk('rect', {x:262, y:981.5, width:7.5, height:6.5, fill:'#ff0000'}, g);
  
  
  const t1 = tx('WT', {x:271.5, y:987.5, 'font-size':7, 'font-weight':'bold'}, g);
  
  
  const s2 = mk('rect', {x:262, y:990.5, width:7.5, height:6.5, fill:'#0000ff'}, g);
  
  
  const t2 = tx('WT+Fe', {x:271.5, y:996.5, 'font-size':7, 'font-weight':'bold'}, g);
  
  
  cladoLegendText.forEach((s,i)=>{
    const yy = 1019 + 6.37*i;
    const r = mk('rect', {x:259.6, y:yy-2.2, width:6.2, height:3.8, fill:cladoMarkGroup[i]==='WT'?'#ff0000':'#0000ee'}, g);
    
    
    const e = tx(s, {x:270, y:yy+1.6, 'font-size':4.3}, g);
    
    
  });
})();
</script>
</body></html>
